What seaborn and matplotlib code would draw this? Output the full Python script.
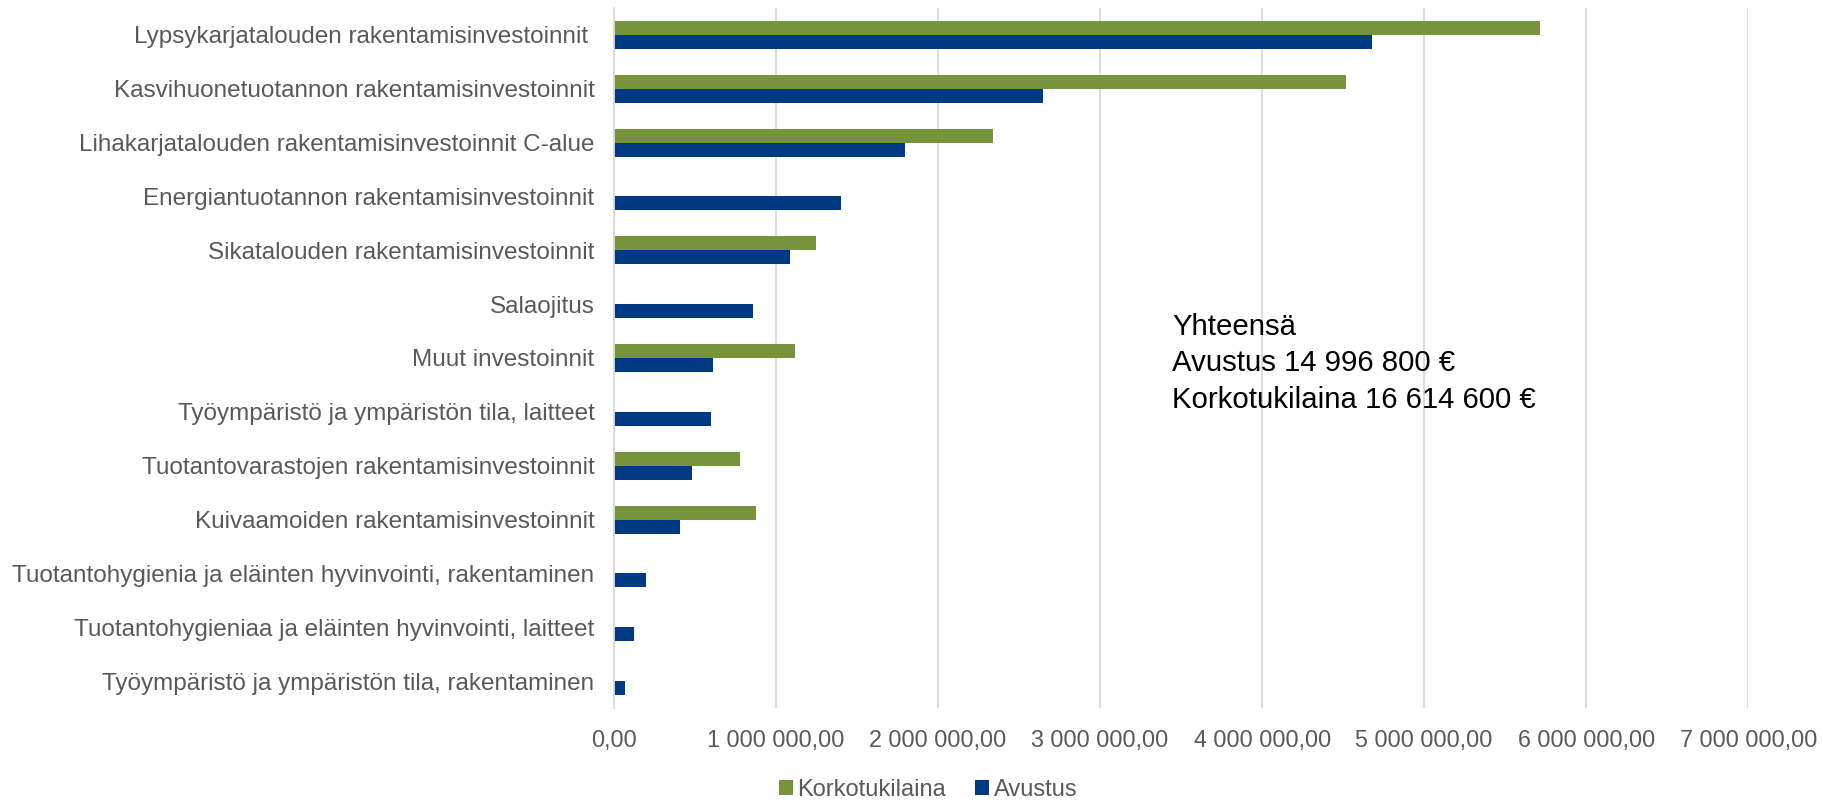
import matplotlib
matplotlib.use("Agg")
import matplotlib.pyplot as plt
import seaborn as sns
import pandas as pd

categories = [
    "Lypsykarjatalouden rakentamisinvestoinnit ",
    "Kasvihuonetuotannon rakentamisinvestoinnit",
    "Lihakarjatalouden rakentamisinvestoinnit C-alue",
    "Energiantuotannon rakentamisinvestoinnit",
    "Sikatalouden rakentamisinvestoinnit",
    "Salaojitus",
    "Muut investoinnit",
    "Työympäristö ja ympäristön tila, laitteet",
    "Tuotantovarastojen rakentamisinvestoinnit",
    "Kuivaamoiden rakentamisinvestoinnit",
    "Tuotantohygienia ja eläinten hyvinvointi, rakentaminen",
    "Tuotantohygieniaa ja eläinten hyvinvointi, laitteet",
    "Työympäristö ja ympäristön tila, rakentaminen",
]
korkotukilaina = [5717000, 4516000, 2339000, 0, 1248000, 0, 1120000, 0, 778000, 877000, 0, 0, 0]
avustus = [4677000, 2646000, 1795000, 1402000, 1087000, 858000, 612000, 601000, 480000, 408000, 196000, 124000, 69000]
series_names = ["Korkotukilaina", "Avustus"]
x_ticks = [0, 1000000, 2000000, 3000000, 4000000, 5000000, 6000000, 7000000]
x_tick_labels = ["0,00", "1 000 000,00", "2 000 000,00", "3 000 000,00",
                 "4 000 000,00", "5 000 000,00", "6 000 000,00", "7 000 000,00"]
annotation = "Yhteensä\nAvustus 14 996 800 €\nKorkotukilaina 16 614 600 €"

df = pd.DataFrame({
    "category": categories * 2,
    "value": korkotukilaina + avustus,
    "series": [series_names[0]] * len(categories) + [series_names[1]] * len(categories),
})

sns.set_theme(style="white")
plt.rcParams["font.family"] = ["Liberation Sans", "DejaVu Sans"]

colors = {"Korkotukilaina": "#77933C", "Avustus": "#003A82"}
fig = plt.figure(figsize=(18.23, 8), dpi=100)
ax = fig.add_axes([0.3368, 0.115, 0.6222, 0.875])

sns.barplot(data=df, y="category", x="value", hue="series", hue_order=series_names,
            order=categories, palette=colors, orient="h", width=0.52, dodge=True,
            saturation=1, linewidth=0, ax=ax, legend=True)

ax.set_xlim(0, 7000000)
ax.set_xticks(x_ticks)
ax.set_xticklabels(x_tick_labels)
ax.set_xlabel("")
ax.set_ylabel("")
ax.grid(axis="x", color="#D9D9D9", linewidth=1.3)
ax.grid(axis="y", visible=False)
ax.set_axisbelow(True)
for s in ["top", "right", "bottom"]:
    ax.spines[s].set_visible(False)
ax.spines["left"].set_color("#D9D9D9")
ax.spines["left"].set_linewidth(1.3)
ax.tick_params(axis="x", length=0, labelsize=16.8, labelcolor="#595959", pad=15)
ax.tick_params(axis="y", length=0, labelsize=17.5, labelcolor="#595959", pad=14)

ax.legend_.remove()
handles, labels = ax.get_legend_handles_labels()
fig.legend(handles, labels, loc="center", bbox_to_anchor=(0.509, 0.013), ncol=2,
           frameon=False, fontsize=17, labelcolor="#595959", handlelength=0.6,
           handleheight=0.6, handletextpad=0.2, columnspacing=1.2)

fig.text(0.643, 0.609, annotation, fontsize=21.2, color="black", va="top", ha="left",
         linespacing=1.38)

fig.savefig("out.png", dpi=100)
